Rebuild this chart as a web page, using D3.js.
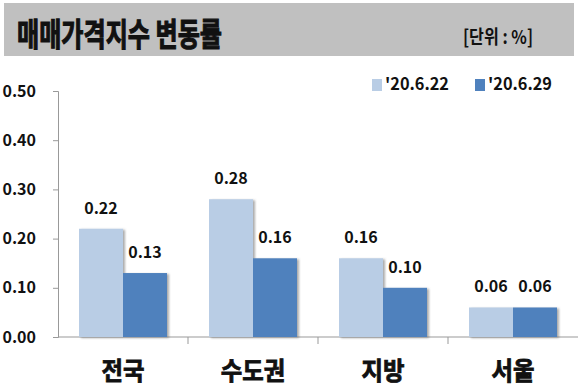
<!DOCTYPE html>
<html>
<head>
<meta charset="utf-8">
<script src="https://cdn.jsdelivr.net/npm/d3@7"></script>
<style>
  body { margin: 0; background: #fff; }
  text { font-family: "Noto Sans CJK KR", "Noto Sans", sans-serif; font-weight: bold; fill: #111; }
</style>
</head>
<body>
<script>
// data
var categories = ['전국', '수도권', '지방', '서울'];
var seriesNames = ["'20.6.22", "'20.6.29"];
var week1 = [0.22, 0.28, 0.16, 0.06];
var week2 = [0.13, 0.16, 0.10, 0.06];
var yTicks = [0, 0.1, 0.2, 0.3, 0.4, 0.5];
var colors = ['#b9cde5', '#4f81bd'];

var w = 580, h = 390;
var svg = d3.select('body').append('svg').attr('width', w).attr('height', h);

// shadow for bars
var defs = svg.append('defs');
defs.append('filter').attr('id', 'shadow')
  .attr('x', '-10%').attr('y', '-10%').attr('width', '130%').attr('height', '130%')
  .append('feDropShadow')
  .attr('dx', 2).attr('dy', 1).attr('stdDeviation', 1)
  .attr('flood-color', '#666').attr('flood-opacity', 0.55);

// title band
svg.append('rect').attr('x', 4).attr('y', 3).attr('width', 570).attr('height', 53)
  .attr('fill', '#c0c0c0');
svg.append('text').attr('x', 17).attr('y', 46)
  .attr('font-size', 32)
  .attr('stroke', '#111').attr('stroke-width', 1.1)
  .attr('textLength', 205).attr('lengthAdjust', 'spacingAndGlyphs')
  .text('매매가격지수 변동률');
svg.append('text').attr('x', 463).attr('y', 44)
  .attr('font-size', 19)
  .attr('textLength', 70).attr('lengthAdjust', 'spacingAndGlyphs')
  .text('[단위 : %]');

// scales
var x = d3.scaleBand().domain(categories).range([58, 578]);
var xs = d3.scaleBand().domain([0, 1]).range([21, 109]);
var y = d3.scaleLinear().domain([0, 0.5]).range([337, 91]);

// y axis
var yAxis = svg.append('g').attr('transform', 'translate(58,0)')
  .call(d3.axisLeft(y).tickValues(yTicks).tickSize(5).tickFormat(d3.format('.2f')));
yAxis.select('.domain').attr('stroke', '#999');
yAxis.selectAll('.tick line').attr('stroke', '#999');
yAxis.selectAll('.tick text').attr('x', -22).attr('font-size', 16)
  .attr('font-family', '"Noto Sans CJK KR", sans-serif').attr('fill', '#111');

// x axis line and separators
svg.append('line').attr('x1', 58).attr('x2', 578).attr('y1', y(0)).attr('y2', y(0))
  .attr('stroke', '#999');
svg.selectAll('.sep').data(categories.slice(1)).enter().append('line')
  .attr('class', 'sep')
  .attr('x1', function(d) { return x(d); }).attr('x2', function(d) { return x(d); })
  .attr('y1', y(0)).attr('y2', y(0) + 7)
  .attr('stroke', '#999');

// bars
var rows = categories.map(function(c, i) {
  return { cat: c, vals: [week1[i], week2[i]] };
});
var groups = svg.selectAll('.grp').data(rows).enter().append('g')
  .attr('class', 'grp')
  .attr('transform', function(d) { return 'translate(' + x(d.cat) + ',0)'; });

var cells = groups.selectAll('.cell').data(function(d) {
  return d.vals.map(function(v, j) { return { v: v, s: j }; });
}).enter();

cells.append('rect')
  .attr('x', function(d) { return xs(d.s); })
  .attr('y', function(d) { return y(d.v); })
  .attr('width', xs.bandwidth())
  .attr('height', function(d) { return y(0) - y(d.v); })
  .attr('fill', function(d) { return colors[d.s]; })
  .attr('filter', 'url(#shadow)');

cells.append('text')
  .attr('x', function(d) { return xs(d.s) + xs.bandwidth() / 2; })
  .attr('y', function(d) { return y(d.v) - 15; })
  .attr('text-anchor', 'middle')
  .attr('font-size', 16)
  .text(function(d) { return d.v.toFixed(2); });

// category labels
svg.selectAll('.cat').data(categories).enter().append('text')
  .attr('class', 'cat')
  .attr('x', function(d) { return x(d) + x.bandwidth() / 2; })
  .attr('y', 380)
  .attr('text-anchor', 'middle')
  .attr('font-size', 25)
  .attr('stroke', '#111').attr('stroke-width', 0.8)
  .attr('textLength', function(d) { return d.length * 21.5; })
  .attr('lengthAdjust', 'spacingAndGlyphs')
  .text(function(d) { return d; });

// legend
var legendX = [372, 475];
var legend = svg.selectAll('.leg').data(seriesNames).enter().append('g')
  .attr('class', 'leg')
  .attr('transform', function(d, i) { return 'translate(' + legendX[i] + ',79)'; });
legend.append('rect').attr('width', 10).attr('height', 12)
  .attr('fill', function(d, i) { return colors[i]; });
legend.append('text').attr('x', 13).attr('y', 11)
  .attr('font-size', 17)
  .attr('textLength', 64).attr('lengthAdjust', 'spacingAndGlyphs')
  .text(function(d) { return d; });
</script>
</body>
</html>
